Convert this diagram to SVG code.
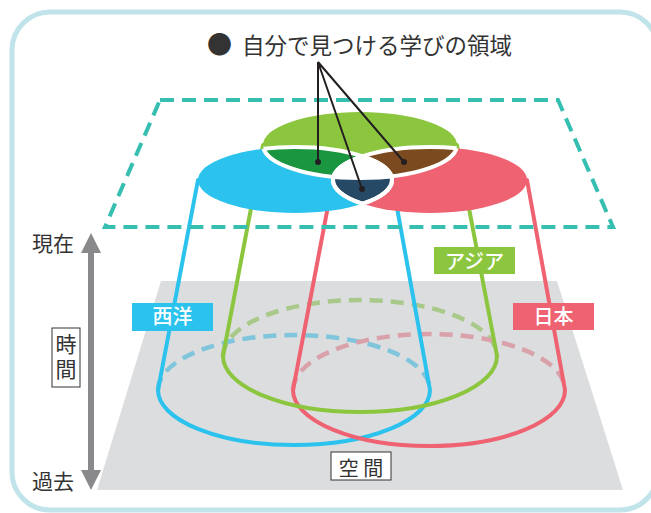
<svg xmlns="http://www.w3.org/2000/svg" xmlns:xlink="http://www.w3.org/1999/xlink" width="651" height="513" viewBox="0 0 651 513">
<style>
text{font-family:'Noto Sans CJK JP','Noto Sans CJK SC',sans-serif;fill:#333333}
.lbl{fill:#ffffff;font-weight:500;font-size:20px;text-anchor:middle}
.solid{fill:none;stroke-width:4;stroke-linejoin:round;stroke-linecap:round}
.dash{fill:none;stroke-width:4.5;stroke-dasharray:13 8}
.wl{fill:none;stroke:#ffffff;stroke-width:4}
.ptr{stroke:#231f20;stroke-width:2;fill:none}
</style>
<defs>
<ellipse id="eB" cx="295" cy="180" rx="97" ry="33"/>
<ellipse id="eR" cx="430" cy="180" rx="97" ry="33"/>
<ellipse id="eG" cx="360" cy="145" rx="97" ry="33"/>
<clipPath id="cB"><use xlink:href="#eB"/></clipPath>
<clipPath id="cR"><use xlink:href="#eR"/></clipPath>
<clipPath id="cG"><use xlink:href="#eG"/></clipPath>
<clipPath id="cGR"><use xlink:href="#eG"/><use xlink:href="#eR"/></clipPath>
<clipPath id="cGB"><use xlink:href="#eG"/><use xlink:href="#eB"/></clipPath>
<clipPath id="cBR"><use xlink:href="#eB"/><use xlink:href="#eR"/></clipPath>
<mask id="mNotG" maskUnits="userSpaceOnUse" x="0" y="0" width="651" height="513"><rect width="651" height="513" fill="#fff"/><use xlink:href="#eG" fill="#000"/></mask>
</defs>

<rect id="frame" x="12" y="12" width="646" height="498" rx="38" fill="#ffffff" stroke="#c0e4ea" stroke-width="5"/>

<g id="plane">
<polygon points="161,281 557,281 623,490 97,490" fill="#dcdddf"/>
</g>

<g id="time-axis">
<rect x="88" y="250" width="6" height="222" fill="#89898c"/>
<polygon points="91,233 101,253 81,253" fill="#89898c"/>
<polygon points="91,490 101,470 81,470" fill="#89898c"/>
<text x="32" y="251" font-size="21">現在</text>
<text x="32" y="489" font-size="21">過去</text>
<rect x="52" y="328" width="28" height="59" fill="#fff" stroke="#333" stroke-width="1"/>
<text x="66" y="334" font-size="21" writing-mode="vertical-rl" letter-spacing="4">時間</text>
</g>

<g id="connectors">
<path class="dash" stroke="#7fc5dc" d="M158,390 A136,55 0 0 1 430,390"/>
<path class="dash" stroke="#a9c98b" d="M223,356 A137,56 0 0 1 497,356"/>
<path class="dash" stroke="#d9a1a9" d="M293,390 A136,56 0 0 1 565,390"/>
<path class="solid" stroke="#2bc3ee" d="M198,180 L158,390 A136,55 0 0 0 430,390 L392,180"/>
<path class="solid" stroke="#ef6271" d="M333,180 L293,390 A136,56 0 0 0 565,390 L527,180"/>
<path class="solid" stroke="#8cc63f" d="M263,145 L223,356 A137,56 0 0 0 497,356 L457,145"/>
</g>

<g id="present-plane">
<polygon points="160,100 558,100 613,227 105,227" fill="none" stroke="#36bfb1" stroke-width="4" stroke-dasharray="14 8"/>
</g>

<g id="space-label">
<rect x="331" y="452" width="60" height="28" fill="#fff" stroke="#333" stroke-width="1"/>
<text x="361" y="476" font-size="20" text-anchor="middle">空 間</text>
</g>

<g id="node-seiyo">
<rect x="132" y="303" width="81" height="28" fill="#2bc3ee"/>
<text class="lbl" x="172.5" y="324">西洋</text>
</g>
<g id="node-asia">
<rect x="434" y="247" width="81" height="27" fill="#8cc63f"/>
<text class="lbl" x="474.5" y="268.5">アジア</text>
</g>
<g id="node-nihon">
<rect x="513" y="303" width="81" height="27" fill="#ef6271"/>
<text class="lbl" x="553.5" y="324">日本</text>
</g>

<g id="top-circles">
<use xlink:href="#eB" fill="#2bc3ee"/>
<use xlink:href="#eR" fill="#ef6271"/>
<use xlink:href="#eG" fill="#8cc63f"/>
<g clip-path="url(#cB)"><use xlink:href="#eG" fill="#1b9640"/></g>
<g clip-path="url(#cR)"><use xlink:href="#eG" fill="#7b4a1e"/></g>
<g clip-path="url(#cB)"><use xlink:href="#eR" fill="#ffffff"/></g>
<g clip-path="url(#cB)"><use xlink:href="#eR" fill="#264966" mask="url(#mNotG)"/></g>
<g clip-path="url(#cBR)"><use xlink:href="#eG" class="wl"/></g>
<g clip-path="url(#cGR)"><use xlink:href="#eB" class="wl"/></g>
<g clip-path="url(#cGB)"><use xlink:href="#eR" class="wl"/></g>
<g clip-path="url(#cR)"><use xlink:href="#eB" class="wl" stroke-width="6"/></g>
<g clip-path="url(#cB)"><use xlink:href="#eR" class="wl" stroke-width="6"/></g>
</g>

<g id="title">
<text x="207" y="54" font-size="22.5"><tspan font-size="25">●</tspan> <tspan x="242">自分で見つける学びの領域</tspan></text>
<path class="ptr" d="M318,62 L318,162 M318,62 L362,189 M318,62 L404,162"/>
<circle cx="318" cy="162" r="3" fill="#231f20"/>
<circle cx="362" cy="189" r="3" fill="#231f20"/>
<circle cx="404" cy="162" r="3" fill="#231f20"/>
</g>
</svg>
